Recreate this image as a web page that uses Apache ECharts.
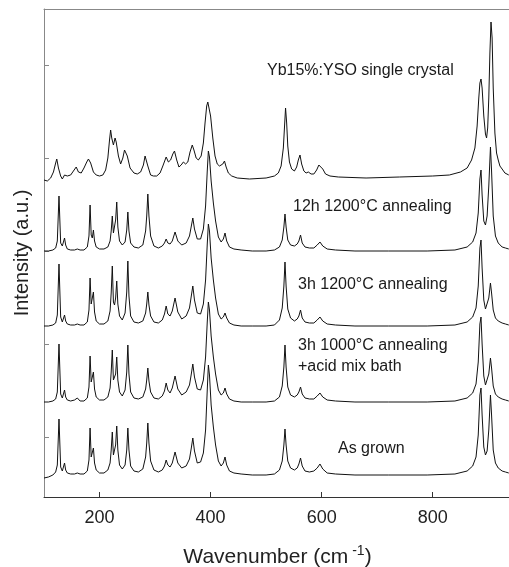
<!DOCTYPE html>
<html>
<head>
<meta charset="utf-8">
<script src="https://cdn.jsdelivr.net/npm/echarts@6/dist/echarts.min.js"></script>
<style>
html,body{margin:0;padding:0;background:#fff;}
#chart{width:509px;height:567px;}
</style>
</head>
<body>
<div id="chart"></div>
<script>
// Shared wavenumber grid (cm-1) for the four polycrystal spectra
var wn = [
 100,108,116,121,124,127,130,133,135,137,
 139,142,148,155,160,165,172,178,181,183,
 185,187,189,191,194,200,208,215,219,221,
 223,225,227,229,231,233,236,241,246,249,
 251,253,256,262,270,278,283,285,287,289,
 292,298,306,313,317,320,323,327,331,336,
 341,348,356,362,365,368,371,376,382,387,
 391,394,396,398,401,405,409,414,419,423,
 426,429,434,442,455,475,500,515,524,529,
 532,534,536,539,544,551,556,559,562,565,
 570,578,586,592,597,602,610,625,660,720,
 790,840,862,872,878,882,885,887,889,892,
 895,898,901,904,906,909,913,918,925,931,
 937
];
// Intensities above each trace's own baseline (a.u.)
var asGrown = [
 -3,-2,0,3,10,56,8,4,6,12,
 5,2,1,1,2,1,1,4,15,47,
 18,17,27,12,5,2,2,5,12,25,
 43,20,20,30,49,25,10,6,10,25,
 47,25,9,4,3,6,18,32,52,32,
 14,5,3,5,9,15,10,8,12,23,
 12,7,9,16,26,37,24,12,13,22,
 45,85,110,100,70,48,30,14,9,12,
 18,10,4,2,1,0,0,1,5,14,
 30,46,30,14,7,5,7,11,17,9,
 4,3,4,7,11,6,2,1,0,0,
 0,1,4,9,18,40,80,87,60,28,
 20,24,45,80,60,25,12,7,4,3,
 2
];
var acidBath = [
 0,0,1,3,10,58,8,4,6,12,
 5,2,1,2,4,1,1,4,15,46,
 20,19,30,13,5,2,2,5,14,30,
 52,22,20,28,45,22,10,6,12,30,
 57,28,10,4,3,5,13,22,34,21,
 10,4,3,6,11,19,12,9,14,26,
 13,7,10,17,27,38,25,13,12,22,
 45,80,100,92,66,45,28,12,7,9,
 14,8,3,1,0,0,0,1,5,16,
 35,57,35,15,7,5,7,10,15,8,
 4,3,3,6,9,5,2,1,0,0,
 0,1,4,9,18,40,78,85,58,26,
 17,18,28,44,34,16,8,5,3,2,
 1
];
var h3_1200 = [
 0,0,1,3,11,62,9,4,6,11,
 5,2,1,1,2,1,1,4,16,48,
 22,21,34,14,5,2,2,5,15,33,
 60,24,21,28,45,22,10,6,13,34,
 65,30,10,4,3,5,13,22,34,21,
 10,4,3,6,12,20,12,10,15,28,
 14,7,10,18,29,40,26,13,12,22,
 46,82,102,95,68,46,28,12,7,9,
 13,8,3,1,0,0,0,1,6,18,
 40,64,40,17,8,5,7,10,16,8,
 4,3,3,6,9,5,2,1,0,0,
 0,1,4,9,18,40,78,86,58,26,
 17,18,28,43,33,16,8,5,3,2,
 1
];
var h12_1200 = [
 0,0,1,3,10,55,8,5,7,13,
 6,2,1,1,2,1,1,4,15,46,
 16,13,21,10,4,2,2,4,10,20,
 35,18,20,31,49,24,10,6,9,21,
 39,20,8,4,3,6,20,35,57,35,
 15,5,3,5,8,12,8,7,10,19,
 10,6,8,15,24,33,22,12,12,22,
 45,80,100,94,70,48,30,14,9,12,
 18,10,4,2,1,0,0,1,4,11,
 24,37,24,11,6,5,7,10,16,8,
 4,3,3,6,9,5,2,1,0,0,
 0,1,4,9,18,38,72,81,56,30,
 26,35,65,104,80,35,15,8,4,3,
 2
];
// Single crystal spectrum has its own grid
var scWn = [
 100,106,112,117,121,123,126,130,133,137,
 142,148,153,158,162,167,172,177,180,184,
 189,194,200,206,211,215,218,220,222,225,
 228,230,234,238,242,245,247,250,255,262,
 268,274,279,282,284,287,292,297,303,309,
 314,318,320,324,328,332,335,339,343,347,
 351,355,359,363,367,370,374,378,383,387,
 390,393,395,397,400,404,408,412,416,419,
 422,425,428,432,438,448,470,500,515,522,
 527,531,533,535,537,539,542,546,551,555,
 558,561,564,568,572,576,578,581,586,591,
 595,598,602,607,615,630,680,740,800,830,
 850,862,870,876,880,883,885,887,889,892,
 895,897,899,901,903,905,907,909,912,915,
 918,921,925,930,937
];
var singleCrystal = [
 -2,-3,0,6,15,19,10,2,-1,3,
 2,3,7,11,6,5,10,16,19,15,
 6,3,2,3,8,20,38,48,40,33,
 40,36,22,14,20,28,30,22,10,5,
 4,6,13,22,24,12,3,2,2,5,
 12,18,21,16,18,24,27,18,11,13,
 16,14,16,26,33,28,20,18,22,35,
 55,72,76,74,62,40,22,14,12,11,
 14,17,11,5,2,0,-1,0,2,5,
 12,30,50,70,55,32,16,9,7,11,
 18,23,14,7,5,6,7,4,4,8,
 13,14,9,4,2,1,0,1,2,3,
 6,10,18,30,52,80,95,99,90,62,
 44,40,50,80,125,156,140,90,45,25,
 18,12,9,5,3
];
// Vertical stacking offsets (a.u.), bottom to top
var traceNames = ['As grown', '3h 1000°C annealing +acid mix bath', '3h 1200°C annealing', '12h 1200°C annealing', 'Yb15%:YSO single crystal'];
var offsets = [22, 95, 171, 246, 319];
var xTicks = [200, 400, 600, 800];
var yTicks = [60, 153, 246, 339, 432];
var xTitle = 'Wavenumber (cm';
var yTitle = 'Intensity (a.u.)';

function build(xs, ys, off) {
  return xs.map(function (x, i) { return [x, ys[i] + off]; });
}
var traces = [
  build(wn, asGrown, offsets[0]),
  build(wn, acidBath, offsets[1]),
  build(wn, h3_1200, offsets[2]),
  build(wn, h12_1200, offsets[3]),
  build(scWn, singleCrystal, offsets[4])
];

var FONT = 'Liberation Sans, Arial, Helvetica, sans-serif';
var chart = echarts.init(document.getElementById('chart'), null, {renderer: 'canvas'});

function txt(text, left, y) {
  return {type: 'text', left: left, top: y - 9,
    style: {text: text, fontFamily: FONT, fontSize: 16, fill: '#1a1a1a'}};
}

chart.setOption({
  animation: false,
  backgroundColor: '#fff',
  grid: {left: 44, right: -2, top: 9, bottom: 70, containLabel: false, outerBoundsMode: 'none'},
  xAxis: [{
    type: 'value', min: 100, max: 941, position: 'bottom',
    axisLine: {show: true, onZero: false, lineStyle: {color: '#333', width: 1}},
    axisTick: {show: true, inside: true, length: 5, customValues: xTicks, lineStyle: {color: '#333'}},
    axisLabel: {show: true, customValues: xTicks, fontFamily: FONT, fontSize: 18, color: '#222', margin: 12},
    splitLine: {show: false},
    name: '{a|' + xTitle + '}{s| -1}{a|)}',
    nameLocation: 'middle', nameGap: 47,
    nameTextStyle: {
      rich: {
        a: {fontFamily: FONT, fontSize: 21, color: '#222'},
        s: {fontFamily: FONT, fontSize: 14, color: '#222', padding: [0, 0, 12, 0]}
      }
    }
  }, {
    type: 'value', min: 100, max: 941, position: 'top',
    axisLine: {show: true, onZero: false, lineStyle: {color: '#888', width: 1}},
    axisTick: {show: false}, axisLabel: {show: false}, splitLine: {show: false}
  }],
  yAxis: {
    type: 'value', min: 0, max: 488,
    axisLine: {show: true, onZero: false, lineStyle: {color: '#888', width: 1}},
    axisTick: {show: true, inside: true, length: 5, customValues: yTicks, lineStyle: {color: '#888'}},
    axisLabel: {show: false},
    splitLine: {show: false},
    name: yTitle, nameLocation: 'middle', nameGap: 12,
    nameTextStyle: {fontFamily: FONT, fontSize: 20, color: '#222'}
  },
  series: traces.map(function (d, i) {
    return {
      name: traceNames[i], type: 'line', data: d, showSymbol: false, symbol: 'none',
      silent: true, lineStyle: {color: '#111', width: 1}, z: 2
    };
  }),
  graphic: [
    txt('Yb15%:YSO single crystal', 267, 72),
    txt('12h 1200°C annealing', 293, 208),
    txt('3h 1200°C annealing', 298, 286),
    txt('3h 1000°C annealing', 298, 347),
    txt('+acid mix bath', 298, 368),
    txt('As grown', 338, 450)
  ]
});
</script>
</body>
</html>
